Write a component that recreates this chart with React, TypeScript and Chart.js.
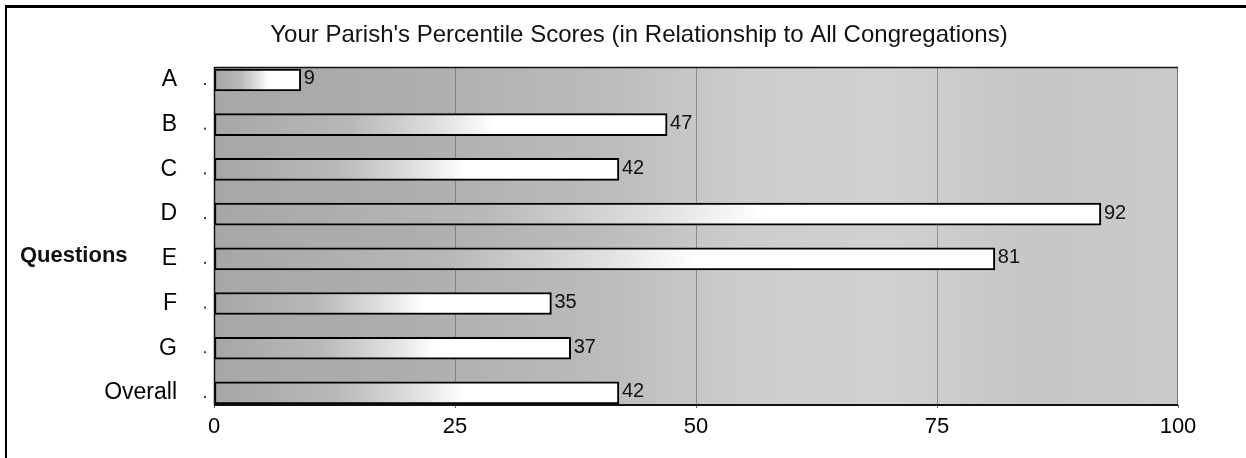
import React, { useEffect, useRef } from "react";
import { Chart, registerables } from "chart.js";

Chart.register(...registerables);

const categories = ["A", "B", "C", "D", "E", "F", "G", "Overall"];
const scores = [9, 47, 42, 92, 81, 35, 37, 42];
const xTickValues = [0, 25, 50, 75, 100];
const chartTitle = "Your Parish's Percentile Scores (in Relationship to All Congregations)";
const yAxisTitle = "Questions";

const FONT = "'Liberation Sans', Arial, Helvetica, sans-serif";

function makeChecker(): CanvasPattern | null {
  const off = document.createElement("canvas");
  off.width = 2;
  off.height = 2;
  const c = off.getContext("2d");
  if (!c) return null;
  c.fillStyle = "rgba(0,0,0,0.07)";
  c.fillRect(0, 0, 1, 1);
  c.fillRect(1, 1, 1, 1);
  return c.createPattern(off, "repeat");
}

const decorPlugin = {
  id: "decor",
  beforeDraw(chart: any) {
    const { ctx, chartArea, width, height } = chart;
    ctx.save();
    ctx.fillStyle = "#ffffff";
    ctx.fillRect(0, 0, width, height);
    const { left, right, top, bottom } = chartArea;
    const g = ctx.createLinearGradient(left, 0, right, 0);
    g.addColorStop(0, "#adadad");
    g.addColorStop(0.2, "#b4b4b4");
    g.addColorStop(0.4, "#c2c2c2");
    g.addColorStop(0.55, "#d4d4d4");
    g.addColorStop(0.7, "#d8d8d8");
    g.addColorStop(0.85, "#cdcdcd");
    g.addColorStop(1, "#d2d2d2");
    ctx.fillStyle = g;
    ctx.fillRect(left, top, right - left, bottom - top);
    const p = makeChecker();
    if (p) {
      ctx.fillStyle = p;
      ctx.fillRect(left, top, right - left, bottom - top);
    }
    ctx.restore();
  },
  afterDatasetsDraw(chart: any) {
    const { ctx, chartArea, scales } = chart;
    const { left, right, top, bottom } = chartArea;
    ctx.save();
    // plot border
    ctx.strokeStyle = "#777";
    ctx.lineWidth = 1;
    ctx.beginPath();
    ctx.moveTo(right - 0.5, top);
    ctx.lineTo(right - 0.5, bottom);
    ctx.stroke();
    ctx.strokeStyle = "#111";
    ctx.lineWidth = 1.5;
    ctx.beginPath();
    ctx.moveTo(left, top + 0.5);
    ctx.lineTo(right, top + 0.5);
    ctx.moveTo(left + 0.5, top);
    ctx.lineTo(left + 0.5, bottom);
    ctx.stroke();
    ctx.lineWidth = 2;
    ctx.beginPath();
    ctx.moveTo(left, bottom);
    ctx.lineTo(right, bottom);
    ctx.stroke();

    // value labels
    ctx.fillStyle = "#111";
    ctx.font = `20px ${FONT}`;
    ctx.textAlign = "left";
    ctx.textBaseline = "middle";
    scores.forEach((v, i) => {
      const x = scales.x.getPixelForValue(v);
      const y = scales.y.getPixelForValue(i);
      ctx.fillText(String(v), x + 3, y - 1);
    });

    // y tick dots
    ctx.fillStyle = "#444";
    categories.forEach((_, i) => {
      const y = scales.y.getPixelForValue(i);
      ctx.fillRect(left - 10, y + 3, 2, 2);
    });

    // title
    ctx.fillStyle = "#111";
    ctx.font = `24px ${FONT}`;
    ctx.textAlign = "center";
    ctx.textBaseline = "middle";
    ctx.fillText(chartTitle, 639, 35);

    // y axis title
    ctx.font = `bold 22px ${FONT}`;
    ctx.textAlign = "left";
    ctx.fillText(yAxisTitle, 20, 256);

    // outer frame (top and left)
    ctx.fillStyle = "#000";
    ctx.fillRect(5, 5, chart.width - 5, 3);
    ctx.fillRect(5, 5, 2, chart.height - 5);
    ctx.restore();
  },
};

export default function App() {
  const ref = useRef<HTMLCanvasElement | null>(null);

  useEffect(() => {
    if (!ref.current) return;
    const chart = new Chart(ref.current, {
      type: "bar",
      data: {
        datasets: [
          {
            data: scores.map((v, i) => ({ x: v, y: i })),
            backgroundColor: (c: any) => {
              const ch = c.chart;
              const sx = ch.scales && ch.scales.x;
              if (!sx || c.raw == null) return "#ffffff";
              const x0 = sx.getPixelForValue(0);
              const x1 = sx.getPixelForValue(c.raw.x);
              if (!isFinite(x0) || !isFinite(x1) || x1 <= x0) return "#ffffff";
              const g = ch.ctx.createLinearGradient(x0, 0, x1, 0);
              g.addColorStop(0, "#a6a6a6");
              g.addColorStop(0.3, "#b8b8b8");
              g.addColorStop(0.5, "#e0e0e0");
              g.addColorStop(0.62, "#ffffff");
              g.addColorStop(1, "#ffffff");
              return g;
            },
            borderColor: "#000",
            borderWidth: 2,
            borderSkipped: false,
            barThickness: 22,
          } as any,
        ],
      },
      options: {
        indexAxis: "y",
        responsive: false,
        animation: false,
        layout: { padding: { top: 67, right: 68, left: 0, bottom: 0 } },
        plugins: {
          legend: { display: false },
          tooltip: { enabled: false },
          title: { display: false },
        },
        scales: {
          x: {
            type: "linear",
            position: "bottom",
            min: 0,
            max: 100,
            offset: false,
            afterBuildTicks: (s: any) => {
              s.ticks = xTickValues.map((v) => ({ value: v }));
            },
            afterFit: (s: any) => {
              s.height = 53;
            },
            ticks: {
              color: "#000",
              font: { size: 22, family: FONT },
              padding: 6,
              maxRotation: 0,
            },
            grid: {
              color: (c: any) =>
                c.tick && (c.tick.value === 0 || c.tick.value === 100)
                  ? "rgba(0,0,0,0)"
                  : "rgba(70,70,70,0.45)",
              lineWidth: 1,
              tickLength: 3,
              tickColor: "#666",
            },
            border: { display: false },
          },
          y: {
            type: "linear",
            min: -0.29,
            max: 7.27,
            offset: false,
            reverse: true,
            afterBuildTicks: (s: any) => {
              s.ticks = categories.map((_, i) => ({ value: i }));
            },
            afterFit: (s: any) => {
              s.width = 214;
            },
            ticks: {
              color: "#000",
              font: { size: 23, family: FONT },
              padding: 37,
              callback: (v: any) => categories[Math.round(Number(v))] ?? "",
            },
            grid: { display: false, drawTicks: false, offset: false },
            border: { display: false },
          },
        },
      } as any,
      plugins: [decorPlugin],
    });
    return () => chart.destroy();
  }, []);

  return (
    <div style={{ position: "absolute", left: 0, top: 0, width: 1246, height: 458, background: "#fff" }}>
      <canvas ref={ref} width={1246} height={458} style={{ display: "block" }} />
    </div>
  );
}
